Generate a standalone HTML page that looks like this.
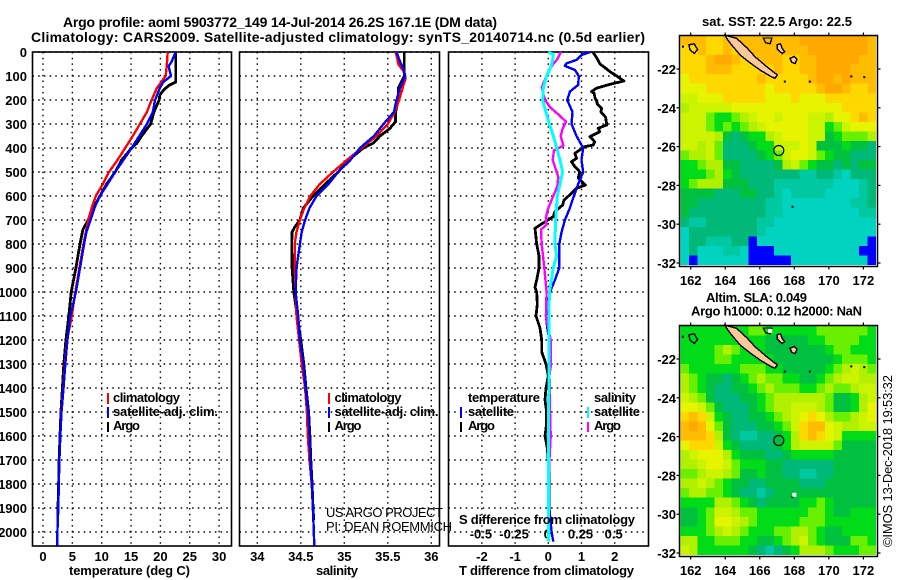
<!DOCTYPE html>
<html lang="en">
<head>
<meta charset="utf-8">
<title>Argo profile 5903772_149</title>
<style>
html,body{margin:0;padding:0;background:#fff;width:900px;height:580px;overflow:hidden}
svg{display:block}
text{font-family:"Liberation Sans",sans-serif;fill:#000}
.b{font-weight:bold;font-size:13px}
.r{font-weight:normal;font-size:13px}
</style>
</head>
<body>
<svg id="chart" xmlns="http://www.w3.org/2000/svg" width="900" height="580" viewBox="0 0 900 580">
<rect width="900" height="580" fill="#fff"/>
<g id="plots"></g>
<text class="b" x="63" y="27" textLength="434" style="font-size:14px">Argo profile: aoml 5903772_149 14-Jul-2014 26.2S 167.1E (DM data)</text>
<text class="b" x="31" y="42" textLength="614" style="font-size:14px">Climatology: CARS2009. Satellite-adjusted climatology: synTS_20140714.nc (0.5d earlier)</text>
<text class="b" x="69" y="575" textLength="121">temperature (deg C)</text>
<text class="b" x="316" y="575" textLength="42">salinity</text>
<text class="b" x="459" y="575" textLength="175">T difference from climatology</text>
<text class="b" x="459" y="524" textLength="176">S difference from climatology</text>
<g>
<rect x="107" y="393" width="2" height="11" fill="#f00"/>
<text class="b" x="113" y="402" textLength="67">climatology</text>
<rect x="107" y="407" width="2" height="11" fill="#00f"/>
<text class="b" x="113" y="416" textLength="105">satellite-adj. clim.</text>
<rect x="107" y="422" width="2" height="10" fill="#000"/>
<text class="b" x="113" y="430" textLength="27">Argo</text>
</g>
<g>
<rect x="328" y="393" width="2" height="11" fill="#f00"/>
<text class="b" x="334.5" y="402" textLength="67">climatology</text>
<rect x="328" y="407" width="2" height="11" fill="#00f"/>
<text class="b" x="334.5" y="416" textLength="104">satellite-adj. clim.</text>
<rect x="328" y="422" width="2" height="10" fill="#000"/>
<text class="b" x="334.5" y="430" textLength="27">Argo</text>
</g>
<g>
<text class="b" x="468" y="402" textLength="72">temperature</text>
<rect x="460" y="407" width="2" height="11" fill="#00f"/>
<text class="b" x="468" y="416" textLength="46">satellite</text>
<rect x="460" y="422" width="2" height="10" fill="#000"/>
<text class="b" x="468" y="430" textLength="27">Argo</text>
<text class="b" x="594" y="402" textLength="42">salinity</text>
<rect x="587" y="407" width="2" height="11" fill="#0ff"/>
<text class="b" x="594" y="416" textLength="46">satellite</text>
<rect x="587" y="422" width="2" height="10" fill="#f0f"/>
<text class="b" x="594" y="430" textLength="27">Argo</text>
</g>
<text class="r" x="326" y="517" textLength="117">US ARGO PROJECT</text>
<text class="r" x="326" y="531" textLength="126">PI: DEAN ROEMMICH</text>
<text class="b" x="702" y="26" textLength="150">sat. SST: 22.5 Argo: 22.5</text>
<text class="b" x="706" y="302" textLength="101">Altim. SLA: 0.049</text>
<text class="b" x="691" y="315.5" textLength="171">Argo h1000: 0.12 h2000: NaN</text>
<text class="r" transform="translate(892 547) rotate(-90)" textLength="172">©IMOS 13-Dec-2018 19:53:32</text>
</svg>
<script>
// ---- profile axes ----
const depthTicks = [0,100,200,300,400,500,600,700,800,900,1000,1100,1200,1300,1400,1500,1600,1700,1800,1900,2000];
const tempTicks = [0,5,10,15,20,25,30];
const salTicks = [34,34.5,35,35.5,36];
const salTickLabels = ['34','34.5','35','35.5','36'];
const tDiffTicks = [-2,-1,0,1,2];
const sDiffTicks = [-0.5,-0.25,0,0.25,0.5];
const sDiffTickLabels = ['-0.5','-0.25','0','0.25','0.5'];
const lonTicks = [162,164,166,168,170,172];
const latTicks = [-22,-24,-26,-28,-30,-32];

// ---- temperature profiles ----
const tempClimDepth = [0,50,100,150,200,250,300,350,400,450,500,550,600,650,700,750,800,900,1000,1100,1200,1300,1400,1500,1600,1700,1800,1900,2000,2057];
const tempClim = [21.25,21.1,20.9,19.4,18.5,17.7,16.5,15.3,14,12.7,11.25,10.2,9,8.3,7.7,7.3,6.9,6.2,5.5,4.9,4.1,3.75,3.45,3.1,2.95,2.8,2.7,2.6,2.45,2.4];
const tempSatDepth = [0,40,60,100,125,150,200,250,300,350,400,450,500,550,600,650,700,750,800,900,1000,1100,1200,1300,1400,1500,1600,1700,1800,1900,2000,2057];
const tempSat = [22.6,21.9,21.4,21.8,20.5,19.9,19.1,18.7,17.7,16.4,15.1,13.7,12.3,11,9.7,8.75,8.1,7.4,7,6.3,5.6,4.65,4.15,3.8,3.5,3.15,2.95,2.8,2.7,2.6,2.45,2.4];
const tempArgoDepth = [0,125,140,160,180,200,250,300,350,380,400,450,500,550,600,650,700,740,800,900,1000,1100,1200,1300,1400,1500,1600,1700,1800,1900,1950];
const tempArgo = [22.6,22.6,21.4,20.5,19.9,19.8,18.9,18.35,16.8,16,15.1,13.4,12.3,10.85,9.7,8.6,7.7,6.8,6.3,5.6,4.8,4.4,3.9,3.55,3.3,3.05,2.9,2.75,2.65,2.55,2.5];

// ---- salinity profiles ----
const salClimDepth = [0,30,50,80,110,150,200,250,300,350,400,450,500,550,600,650,700,750,800,900,1000,1100,1200,1300,1400,1500,1600,1700,1800,1900,2000,2057];
const salClim = [35.59,35.61,35.62,35.68,35.705,35.67,35.63,35.58,35.5,35.37,35.2,35.03,34.87,34.72,34.61,34.54,34.49,34.45,34.43,34.43,34.44,34.45,34.48,34.51,34.55,34.57,34.58,34.6,34.625,34.64,34.65,34.655];
const salSatDepth = [0,40,70,100,150,200,250,300,350,400,450,500,550,600,650,700,750,800,900,1000,1100,1200,1300,1400,1500,1600,1700,1800,1900,2000,2057];
const salSat = [35.6,35.64,35.68,35.7,35.64,35.6,35.57,35.45,35.34,35.18,35.07,34.93,34.82,34.68,34.6,34.55,34.51,34.49,34.45,34.44,34.47,34.49,34.53,34.555,34.585,34.6,34.61,34.625,34.64,34.65,34.655];
const salArgoDepth = [0,100,150,200,250,290,320,350,380,400,450,500,550,600,650,700,730,750,800,900,1000,1100,1200,1300,1400,1500,1600,1700,1800,1900,1950];
const salArgo = [35.69,35.69,35.62,35.62,35.59,35.59,35.52,35.41,35.33,35.22,35.05,34.93,34.78,34.64,34.53,34.49,34.43,34.4,34.395,34.4,34.42,34.46,34.5,34.535,34.56,34.59,34.605,34.615,34.63,34.64,34.65];

// ---- differences from climatology ----
const tDiffArgoDepth = [0,20,50,82,100,121,133,151,165,172,193,207,217,235,249,272,304,318,332,353,374,388,394,422,443,457,478,499,526,554,568,589,617,638,665,686,721,735,800,850,900,950,980,1000,1050,1100,1150,1200,1250,1300,1350,1400,1450,1500,1550,1600,1650,1700,1950];
const tDiffArgo = [1.34,1.44,1.56,1.86,2.06,2.28,1.9,1.45,1.3,1.38,1.41,1.46,1.48,1.61,1.58,1.73,1.76,1.5,1.55,1.25,1.4,1.35,1.1,0.8,0.85,0.7,0.8,0.95,0.9,1.12,0.85,0.7,0.47,0.43,0.2,0.15,-0.25,-0.4,-0.35,-0.28,-0.28,-0.35,-0.4,-0.35,-0.33,-0.37,-0.25,-0.2,-0.2,-0.07,0,-0.07,-0.1,-0.05,-0.05,-0.1,-0.03,0,0];
const tDiffSatDepth = [0,12,33,47,58,75,100,137,165,200,250,300,350,400,450,500,550,600,650,700,750,800,900,950,1000,1100,1150,1200,1900,2000,2040];
const tDiffSat = [1.27,1,0.85,0.55,0.5,0.8,0.92,0.9,0.65,0.57,0.73,0.7,0.85,1.05,1,1.05,0.9,0.77,0.65,0.5,0.4,0.33,0.33,0.2,0.05,-0.07,-0.03,0.03,0.03,0.1,0.15];
const sDiffSatDepth = [0,10,30,50,70,100,150,200,250,300,350,400,450,500,550,600,700,800,850,900,1000,1100,2040];
const sDiffSat = [0,0.038,0.033,0.025,0.013,-0.013,-0.038,-0.043,-0.018,0.008,0.038,0.063,0.088,0.108,0.088,0.068,0.055,0.05,0.063,0.038,0.008,0.005,0];
const sDiffArgoDepth = [0,30,50,70,100,130,150,200,230,260,290,320,350,390,410,450,500,520,560,600,650,690,720,740,800,900,1000,1100,1150,1200,1300,1350,1400,1500,1600,1700,1800,1950];
const sDiffArgo = [0.095,0.068,0.038,0.013,-0.013,-0.038,-0.048,-0.025,0.013,0.075,0.133,0.108,0.093,0.113,0.043,0.033,0.063,0.075,0.068,0.038,0,-0.018,-0.013,-0.055,-0.05,-0.03,-0.013,-0.018,0,0.018,0.02,0.008,0.0125,0.0125,0.018,0.008,0.003,0];

// ---- maps: colour-level cells, 24 rows north to south, 23 columns west to east ----
const levelColors = ['#0000ff','#00d4c0','#00c8a0','#00b878','#00c040','#00dc18','#68f000','#b0f000','#ccf400','#e6f400','#ffd800','#ffbc00','#ffa800'];
const sstGrid = [
[11,11,11,10,10,11,11,11,11,11,11,11,11,11,12,12,12,12,12,12,12,12,11],
[10,10,11,10,10,11,10,11,11,11,11,11,11,11,11,12,12,12,12,12,12,12,11],
[10,10,10,11,12,12,11,10,10,11,11,11,10,10,11,11,12,12,12,12,12,11,11],
[10,10,10,11,11,11,10,10,10,10,10,11,10,10,11,11,12,12,12,12,11,11,11],
[9,10,10,10,10,10,10,10,10,11,10,10,10,10,10,11,12,12,11,12,11,11,11],
[9,9,9,10,10,10,10,10,10,10,9,10,10,10,10,10,11,12,12,11,10,10,11],
[8,8,9,9,9,10,10,10,10,10,9,9,9,10,9,9,9,10,10,10,10,10,10],
[7,8,8,8,8,8,9,9,9,9,9,9,9,9,9,9,9,9,9,10,10,10,10],
[8,8,8,6,5,5,6,7,8,9,9,8,9,9,9,8,8,7,9,9,10,11,10],
[8,8,8,6,5,6,5,6,7,8,9,9,9,9,9,8,8,5,6,8,9,9,9],
[8,8,8,8,7,4,3,4,5,5,7,8,9,9,9,8,8,4,5,6,6,6,7],
[8,8,7,8,6,3,3,3,4,5,5,8,8,8,9,8,4,4,4,5,4,4,3],
[6,7,7,8,6,3,3,3,3,4,5,6,8,9,9,8,6,5,4,4,3,3,3],
[5,5,6,7,7,4,4,3,3,3,3,4,7,8,6,5,4,4,3,4,3,4,4],
[5,5,5,6,7,5,4,3,3,3,3,3,3,3,2,2,3,3,2,1,3,3,3],
[5,6,7,7,7,4,4,4,3,3,3,2,2,2,2,2,2,2,1,1,1,2,3],
[4,4,4,4,3,3,3,4,4,3,3,2,1,2,2,2,2,1,1,1,1,2,3],
[4,4,3,3,3,3,3,3,3,3,2,2,1,1,1,1,1,1,1,1,2,2,3],
[4,3,3,3,3,3,3,3,3,3,2,2,1,1,1,1,1,1,1,1,1,2,2],
[3,2,2,3,3,3,3,3,3,2,2,1,1,1,1,1,1,1,1,1,1,1,1],
[1,3,3,3,3,3,3,3,3,2,1,1,1,1,1,1,1,1,1,1,1,1,1],
[1,3,3,2,2,2,3,3,0,1,1,1,1,1,1,1,1,1,1,1,1,1,0],
[1,3,1,1,1,2,2,1,0,0,0,1,1,1,1,1,1,1,1,1,1,0,0],
[1,0,1,1,1,1,1,1,0,0,0,0,0,1,1,1,1,1,1,1,1,1,0]
];
const slaGrid = [
[5,5,5,5,5,5,5,5,6,6,5,5,5,5,5,5,6,6,6,6,6,6,5],
[5,5,5,5,5,5,5,5,5,5,4,4,4,4,4,5,5,6,6,6,6,5,5],
[5,5,5,5,6,7,6,5,5,5,4,4,4,4,4,4,4,5,6,6,5,5,5],
[5,5,5,5,6,6,5,5,5,5,5,4,4,4,4,4,4,4,5,6,6,6,5],
[6,5,5,5,5,5,5,6,6,6,5,5,4,4,4,4,4,5,6,7,8,7,6],
[7,6,5,4,4,3,4,5,6,7,6,6,5,5,4,4,5,6,7,8,8,7,7],
[7,6,5,4,3,3,4,4,5,6,7,6,6,6,5,5,6,7,6,6,7,8,8],
[8,7,6,4,3,3,3,4,4,5,6,7,7,7,7,7,7,6,4,4,5,7,8],
[9,9,8,6,4,3,3,3,4,5,6,7,7,8,8,8,7,6,4,4,5,7,9],
[10,11,10,8,5,4,3,3,4,4,5,6,7,8,9,10,9,7,6,6,7,8,9],
[11,12,11,9,6,4,3,3,3,4,4,5,6,8,10,11,11,9,8,7,7,8,8],
[11,11,11,10,7,4,3,2,2,3,3,4,5,7,10,11,10,9,8,5,5,5,5],
[9,10,10,10,8,5,4,3,3,3,3,4,5,7,8,8,8,8,6,4,4,4,4],
[7,8,9,9,9,7,5,4,4,4,3,3,4,5,5,5,5,5,4,4,4,4,4],
[7,7,8,9,9,8,6,5,5,5,4,4,3,3,3,3,3,3,4,4,4,4,4],
[6,6,7,8,8,7,6,4,4,5,4,4,3,3,2,2,3,3,4,4,4,4,4],
[7,7,8,7,6,5,4,4,3,3,4,4,4,4,3,3,3,4,4,4,4,4,4],
[6,7,7,6,6,5,4,3,3,2,3,4,4,4,4,4,4,4,4,4,4,4,4],
[5,5,5,5,7,7,6,5,4,3,4,4,4,4,5,5,6,5,4,4,4,4,4],
[4,4,5,6,8,8,7,6,6,5,5,5,5,5,5,6,6,5,4,4,5,5,5],
[4,4,5,6,9,9,8,7,6,5,5,5,5,5,6,6,6,5,5,5,5,5,5],
[5,5,5,6,7,8,7,6,5,5,5,6,6,7,7,6,5,4,4,5,5,5,5],
[7,7,5,5,6,6,6,5,5,4,4,5,6,7,8,6,5,4,4,4,6,6,5],
[8,7,5,5,5,5,5,5,4,3,2,3,4,5,7,7,7,6,5,5,5,6,6]
];
const cellLonStart = 161.42, cellLatStart = -20.3, cellDeg = 0.4917;

// ---- coastline outlines (lon/lat) and profile position ----
const grandeTerreLon = [163.99,164.66,165.28,165.72,166.4,167.02,166.88,166.59,166.01,165.34,164.86,164.37,164.08];
const grandeTerreLat = [-20.26,-20.42,-20.93,-21.36,-21.88,-22.31,-22.48,-22.36,-22.05,-21.62,-21.28,-20.76,-20.42];
const lifouLon = [167.0,167.2,167.3,167.45,167.3,167.1,167.0];
const lifouLat = [-20.75,-20.7,-20.95,-21.1,-21.2,-21.05,-20.95];
const mareLon = [167.75,168.0,168.15,168.05,167.85];
const mareLat = [-21.45,-21.35,-21.5,-21.72,-21.65];
const ouveaLon = [166.2,166.7,166.6,166.35];
const ouveaLat = [-20.4,-20.4,-20.7,-20.65];
const reefLon = [161.9,162.2,162.4,162.2,161.95];
const reefLat = [-20.75,-20.7,-21,-21.2,-21];
const isletLon = [161.55,167.45,168.9,171.3,172.05,167.9];
const isletLat = [-20.85,-22.65,-22.65,-22.38,-22.42,-29.1];
const profileLon = 167.1, profileLat = -26.2;

const svg = document.getElementById('chart');
const plots = document.getElementById('plots');
const NS = 'http://www.w3.org/2000/svg';
function mk(tag, attrs, parent) {
  const el = document.createElementNS(NS, tag);
  for (const k in attrs) el.setAttribute(k, attrs[k]);
  (parent || plots).appendChild(el);
  return el;
}
const yDepth = d => 52 + d * 0.24;
const xTemp = v => 43 + v * 5.87;
const xSal = v => 257.3 + (v - 34) * 87;
const xTDiff = v => 548.3 + v * 33.2;
const xSDiff = v => 548.3 + v * 132.8;
const xLon = v => 690.7 + (v - 162) * 17.27;
const yLat = (v, off) => 69 + off - (v + 22) * 19.4;
const pts = (vals, depths, xf) => vals.map((v, i) => xf(v).toFixed(1) + ',' + yDepth(depths[i]).toFixed(1)).join(' ');

function tickLabel(txt, x, y, anchor) {
  const t = mk('text', {x: x, y: y, 'text-anchor': anchor, class: 'b'});
  t.textContent = txt;
  
  
  return t;
}
function gridLine(x1, y1, x2, y2) {
  const l = mk('line', {x1: x1, y1: y1, x2: x2, y2: y2, stroke: '#000', 'stroke-width': 1.4, 'stroke-dasharray': '1.5 4.2'});
  
  
}
function profileLine(vals, depths, xf, color, width, name) {
  const p = mk('polyline', {points: pts(vals, depths, xf), fill: 'none', stroke: color, 'stroke-width': width, 'shape-rendering': 'crispEdges', 'stroke-linejoin': 'round'});
  
  
}
function panel(x0, x1, xTicks, xf, labels, labelY, panelName) {
  depthTicks.forEach(d => gridLine(x0, yDepth(d), x1, yDepth(d)));
  xTicks.forEach(v => gridLine(xf(v), 52, xf(v), 546));
  const r = mk('rect', {x: x0, y: 52, width: x1 - x0, height: 494, fill: 'none', stroke: '#000', 'stroke-width': 1.6});
  
  
  xTicks.forEach((v, i) => tickLabel(labels[i], xf(v), labelY, 'middle'));
}

// Temperature panel
panel(32.5, 231.5, tempTicks, xTemp, tempTicks.map(String), 561, 'temperature-panel-frame');
depthTicks.forEach(d => tickLabel(String(d), 27, yDepth(d) + 5, 'end'));
profileLine(tempArgo, tempArgoDepth, xTemp, '#000', 2.8, 'temperature-argo-line');
profileLine(tempClim, tempClimDepth, xTemp, '#f00', 2.4, 'temperature-climatology-line');
profileLine(tempSat, tempSatDepth, xTemp, '#00f', 2.4, 'temperature-satellite-line');

// Salinity panel
panel(239.5, 439.5, salTicks, xSal, salTickLabels, 561, 'salinity-panel-frame');
profileLine(salArgo, salArgoDepth, xSal, '#000', 2.8, 'salinity-argo-line');
profileLine(salClim, salClimDepth, xSal, '#f00', 2.4, 'salinity-climatology-line');
profileLine(salSat, salSatDepth, xSal, '#00f', 2.4, 'salinity-satellite-line');

// Difference panel
panel(448.5, 648.5, tDiffTicks, xTDiff, tDiffTicks.map(String), 561, 'difference-panel-frame');
sDiffTicks.forEach((v, i) => tickLabel(sDiffTickLabels[i], xSDiff(v) - 1, 538.5, 'middle'));
profileLine(tDiffArgo, tDiffArgoDepth, xTDiff, '#000', 2.8, 't-difference-argo-line');
profileLine(tDiffSat, tDiffSatDepth, xTDiff, '#00f', 2.4, 't-difference-satellite-line');
profileLine(sDiffArgo, sDiffArgoDepth, xSDiff, '#f0f', 2.4, 's-difference-argo-line');
profileLine(sDiffSat, sDiffSatDepth, xSDiff, '#0ff', 3, 's-difference-satellite-line');

function coast(lons, lats, off, fill, name) {
  const p = mk('polygon', {points: lons.map((v, i) => xLon(v).toFixed(1) + ',' + yLat(lats[i], off).toFixed(1)).join(' '), fill: fill, stroke: '#000', 'stroke-width': 1.4, 'shape-rendering': 'crispEdges'});
  
  
}
function drawMap(grid, off, mapName) {
  const g = mk('g', {});
  
  
  grid.forEach((row, r) => row.forEach((lvl, c) => {
    const x0 = xLon(cellLonStart + c * cellDeg), x1 = xLon(cellLonStart + (c + 1) * cellDeg);
    const y0 = yLat(cellLatStart - r * cellDeg, off), y1 = yLat(cellLatStart - (r + 1) * cellDeg, off);
    const cell = mk('rect', {x: x0.toFixed(2), y: y0.toFixed(2), width: (x1 - x0).toFixed(2), height: (y1 - y0).toFixed(2), fill: levelColors[lvl], 'shape-rendering': 'crispEdges'}, g);
    
    
  }));
  coast(grandeTerreLon, grandeTerreLat, off, '#ffc89a', 'grande-terre-island');
  coast(lifouLon, lifouLat, off, '#ffc89a', 'lifou-island');
  coast(mareLon, mareLat, off, '#ffc89a', 'mare-island');
  coast(ouveaLon, ouveaLat, off, 'none', 'ouvea-reef');
  coast(reefLon, reefLat, off, 'none', 'reef-outline');
  isletLon.forEach((v, i) => {
    const d = mk('rect', {x: xLon(v) - 1, y: yLat(isletLat[i], off) - 1, width: 2, height: 2, fill: '#000'});
    
    
  });
  const m = mk('circle', {cx: xLon(profileLon), cy: yLat(profileLat, off), r: 5, fill: 'none', stroke: '#000', 'stroke-width': 1.2});
  
  
  const top = off + 35.5, bot = off + 266.5;
  const f = mk('rect', {x: 679.5, y: top, width: 198, height: bot - top, fill: 'none', stroke: '#000', 'stroke-width': 1.5});
  
  
  lonTicks.forEach(v => {
    const tb = mk('line', {x1: xLon(v), x2: xLon(v), y1: bot, y2: bot + 3, stroke: '#000', 'stroke-width': 1.2});
    
    
    const tt = mk('line', {x1: xLon(v), x2: xLon(v), y1: top, y2: top - 3, stroke: '#000', 'stroke-width': 1.2});
    
    
    tickLabel(String(v), xLon(v), off + 285, 'middle');
  });
  latTicks.forEach(v => {
    const tl = mk('line', {x1: 679.5, x2: 676.5, y1: yLat(v, off), y2: yLat(v, off), stroke: '#000', 'stroke-width': 1.2});
    
    
    const tr = mk('line', {x1: 877.5, x2: 880.5, y1: yLat(v, off), y2: yLat(v, off), stroke: '#000', 'stroke-width': 1.2});
    
    
    tickLabel(String(v), 676, yLat(v, off) + 5, 'end');
  });
}
drawMap(sstGrid, 0, 'sst-map');
drawMap(slaGrid, 290, 'sla-map');
[[166.6, -20.55], [168.0, -29.0]].forEach(p => {
  const w = mk('rect', {x: xLon(p[0]) - 2, y: yLat(p[1], 290) - 2, width: 4, height: 4, fill: '#fff'});
  
  
});
</script>
</body>
</html>
